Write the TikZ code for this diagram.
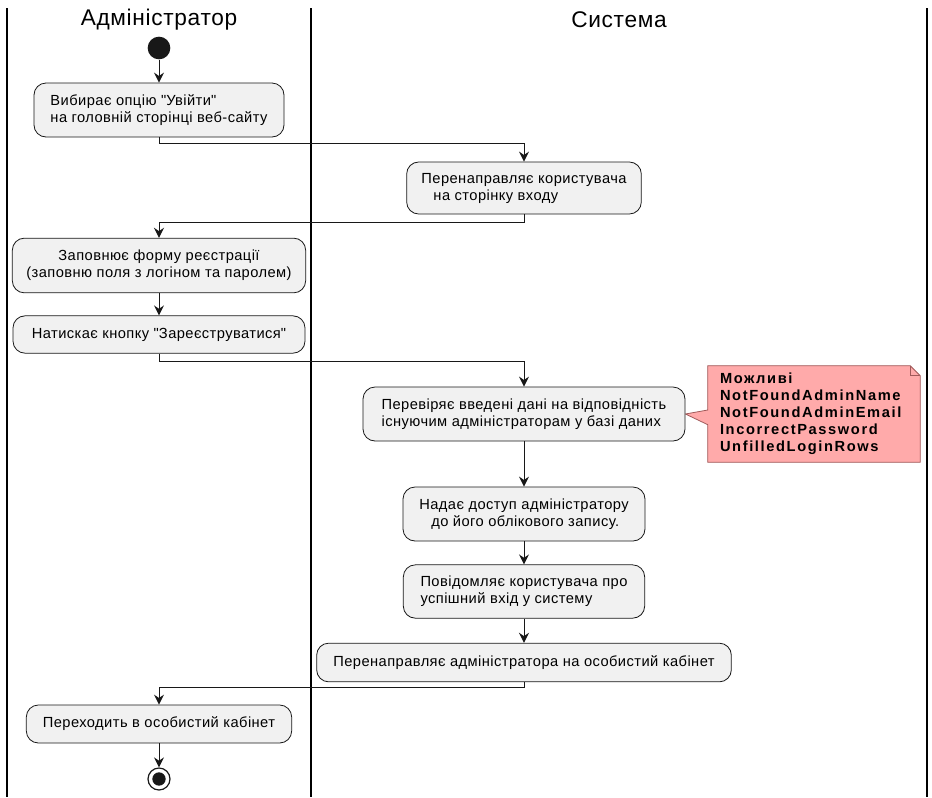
\documentclass[tikz,border=0pt]{standalone}
\usepackage{fontspec}
\setmainfont{Liberation Sans}[LetterSpace=3]
\newfontfamily\notefont[LetterSpace=11]{Liberation Sans}
\usetikzlibrary{arrows.meta,backgrounds}

\definecolor{actfill}{HTML}{F1F1F1}
\definecolor{actline}{HTML}{181818}
\definecolor{notefill}{HTML}{FFAAAA}
\definecolor{noteline}{HTML}{A05A5A}

\begin{document}
\begin{tikzpicture}[x=0.75pt,y=-0.75pt,
    action/.style={draw=actline, fill=actfill, rounded corners=9pt, line width=0.6pt,
        inner sep=0pt, font=\fontsize{11}{12.75}\selectfont},
    flow/.style={-{Stealth[length=7.5pt,width=7.5pt,inset=2.5pt]}, line width=0.75pt, draw=actline},
    laneline/.style={line width=1.5pt},
    lanetitle/.style={font=\fontsize{17}{20}\selectfont},
    startdot/.style={circle, fill=actline, minimum size=17pt, inner sep=0pt},
    enddot/.style={circle, draw=actline, line width=0.9pt, minimum size=16.5pt, inner sep=0pt},
    notebox/.style={inner xsep=9pt, inner ysep=0pt, minimum height=72pt, text width=141pt,
        align=left, font=\notefont\bfseries\fontsize{11}{12.75}\selectfont}]
    \useasboundingbox (0,0) rectangle (932,797);

    % Swimlanes
    \draw[laneline] (7,8) -- (7,797);
    \draw[laneline] (311,8) -- (311,797);
    \draw[laneline] (927,8) -- (927,797);
    \node[lanetitle] (admintitle) at (159,20) {Адміністратор};
    \node[lanetitle] (systitle) at (619,20) {Система};

    % Activities
    \node[startdot] (start) at (159,48) {};
    \node[action, minimum width=187.5pt, minimum height=40.5pt, align=left] (choose) at (159,110)
        {Вибирає опцію \textquotedbl Увійти\textquotedbl\\на головній сторінці веб-сайту};
    \node[action, minimum width=176pt, minimum height=39pt, align=left] (redirect) at (524,188)
        {Перенаправляє користувача\\\hspace*{9pt}на сторінку входу};
    \node[action, minimum width=220pt, minimum height=41pt, align=center] (fillform) at (159,265.5)
        {Заповнює форму реєстрації\\(заповню поля з логіном та паролем)};
    \node[action, minimum width=219pt, minimum height=28pt] (press) at (159,334.5)
        {Натискає кнопку \textquotedbl Зареєструватися\textquotedbl};
    \node[action, minimum width=241.5pt, minimum height=40.5pt, align=left] (check) at (524,414)
        {Перевіряє введені дані на відповідність\\існуючим адміністраторам у базі даних};
    \node[action, minimum width=181.5pt, minimum height=40.5pt, align=left] (grant) at (524,514)
        {Надає доступ адміністратору\\\hspace*{9pt}до його облікового запису.};
    \node[action, minimum width=181pt, minimum height=40pt, align=left] (notify) at (524,591.5)
        {Повідомляє користувача про\\успішний вхід у систему};
    \node[action, minimum width=311pt, minimum height=29pt] (tocabinet) at (524,662.5)
        {Перенаправляє адміністратора на особистий кабінет};
    \node[action, minimum width=199pt, minimum height=28.5pt] (gocabinet) at (159,724)
        {Переходить в особистий кабінет};
    \node[enddot] (stop) at (159,779) {};
    \fill[actline] (stop) circle (5pt);

    % Note on the check
    \node[notebox] (errors) at (814,414)
        {Можливі\\NotFoundAdminName\\NotFoundAdminEmail\\IncorrectPassword\\UnfilledLoginRows};
    \begin{scope}[on background layer]
        \filldraw[fill=notefill, draw=noteline, line width=0.6pt]
            (errors.north west) -- ([xshift=-7.5pt]errors.north east)
            -- ([yshift=-7.5pt]errors.north east) -- (errors.south east)
            -- (errors.south west) -- ([yshift=-8pt]errors.west)
            -- (check.east) -- ([yshift=3pt]errors.west) -- cycle;
        \draw[draw=noteline, line width=0.6pt] ([xshift=-7.5pt]errors.north east)
            -- ([xshift=-7.5pt,yshift=-7.5pt]errors.north east) -- ([yshift=-7.5pt]errors.north east);
    \end{scope}

    % Control flow
    \draw[flow] (start) -- (choose);
    \draw[flow] (choose.south) -- ++(0,6) -| (redirect.north);
    \draw[flow] (redirect.south) -- ++(0,8) -| (fillform.north);
    \draw[flow] (fillform) -- (press);
    \draw[flow] (press.south) -- ++(0,8) -| (check.north);
    \draw[flow] (check) -- (grant);
    \draw[flow] (grant) -- (notify);
    \draw[flow] (notify) -- (tocabinet);
    \draw[flow] (tocabinet.south) -- ++(0,5) -| (gocabinet.north);
    \draw[flow] (gocabinet) -- (stop);
\end{tikzpicture}
\end{document}
